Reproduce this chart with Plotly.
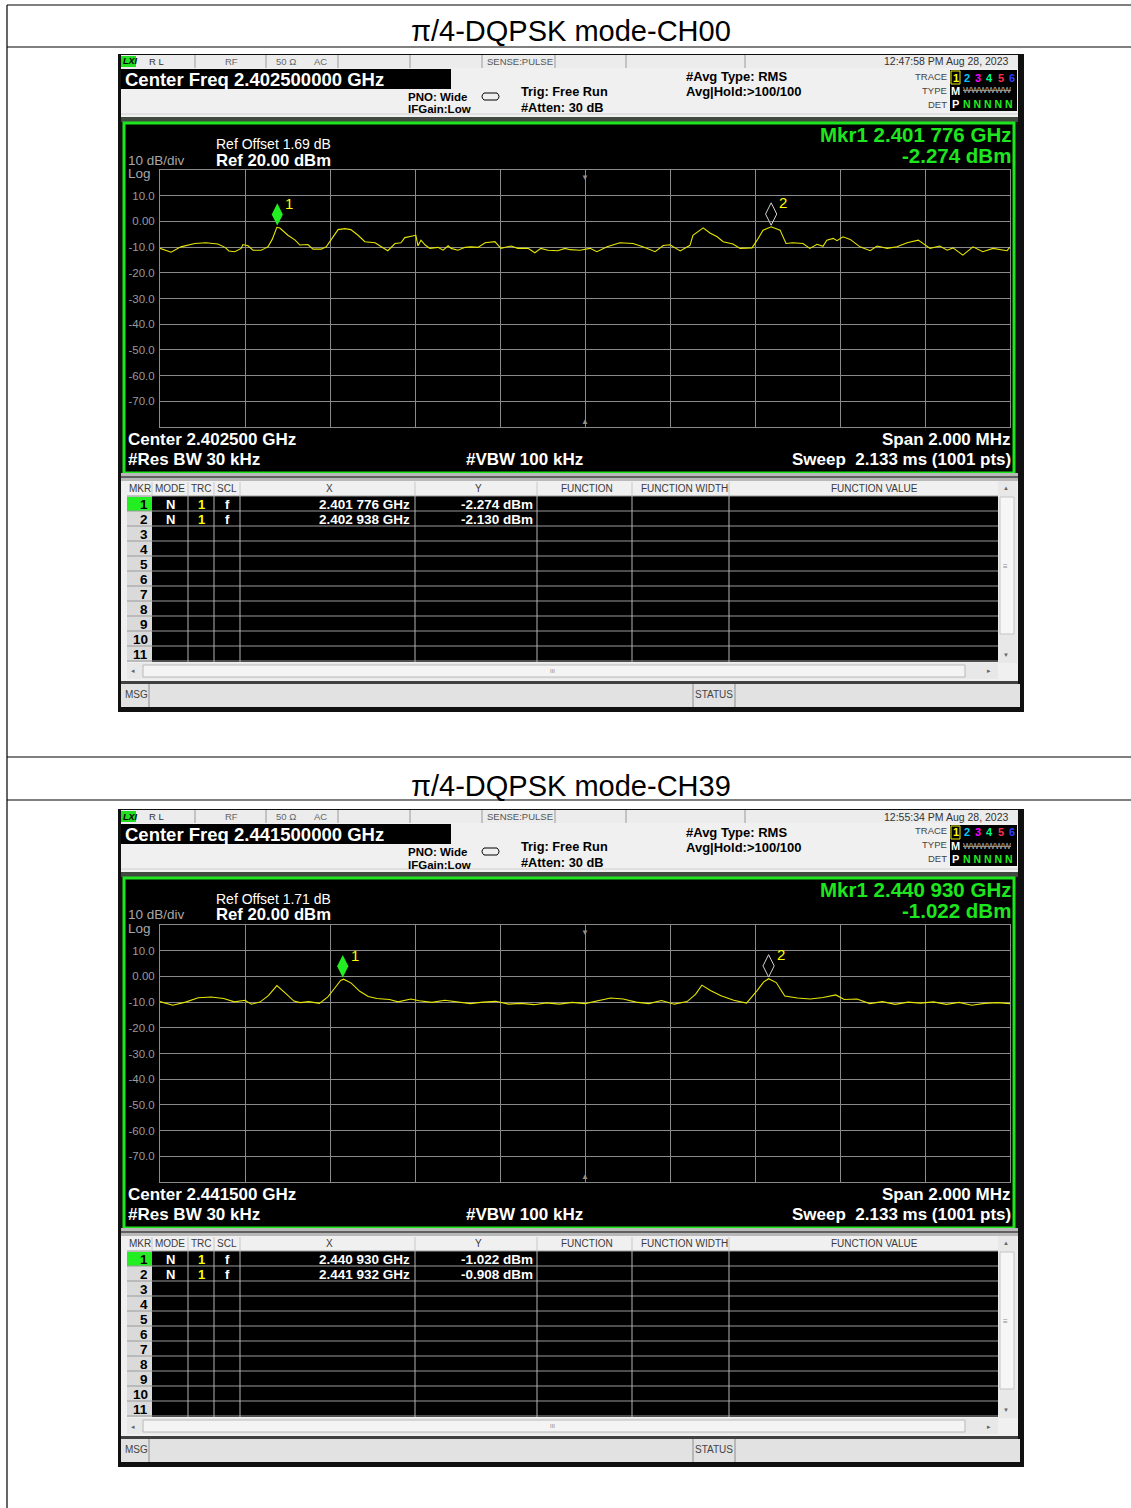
import plotly.graph_objects as go

W, H = 1131, 1508
OFF = 0

# ---------------- data ----------------
titles = ["π/4-DQPSK mode-CH00", "π/4-DQPSK mode-CH39"]
center_ghz = [2.4025, 2.4415]
span_mhz = 2.0
ref_level_dbm = 20.0
ref_offsets_db = [1.69, 1.71]
timestamps = ["12:47:58 PM Aug 28, 2023", "12:55:34 PM Aug 28, 2023"]

# trace samples: offset from start frequency (MHz) and level (dBm)
ch00_offset_mhz = [0.000, 0.026, 0.049, 0.082, 0.108, 0.136, 0.153, 0.162, 0.176, 0.191,
                   0.195, 0.207, 0.219, 0.238, 0.247, 0.254, 0.264, 0.275, 0.282, 0.301,
                   0.318, 0.329, 0.348, 0.360, 0.379, 0.391, 0.402, 0.419, 0.435, 0.449,
                   0.466, 0.482, 0.506, 0.520, 0.536, 0.553, 0.567, 0.576, 0.591, 0.602,
                   0.607, 0.614, 0.624, 0.635, 0.654, 0.666, 0.678, 0.685, 0.701, 0.718,
                   0.732, 0.748, 0.765, 0.788, 0.802, 0.826, 0.842, 0.866, 0.882, 0.896,
                   0.913, 0.936, 0.953, 0.965, 0.988, 1.012, 1.028, 1.052, 1.082, 1.113,
                   1.136, 1.165, 1.184, 1.200, 1.224, 1.247, 1.254, 1.278, 1.294, 1.311,
                   1.325, 1.348, 1.365, 1.393, 1.405, 1.419, 1.438, 1.459, 1.473, 1.489,
                   1.513, 1.529, 1.546, 1.560, 1.569, 1.584, 1.593, 1.607, 1.624, 1.647,
                   1.671, 1.687, 1.711, 1.734, 1.758, 1.784, 1.812, 1.835, 1.852, 1.866,
                   1.889, 1.913, 1.936, 1.960, 1.993, 2.000]
ch00_dbm = [-10.5, -12.0, -9.9, -8.6, -8.3, -8.8, -10.1, -11.5, -11.8, -10.5,
            -9.0, -9.5, -11.2, -11.2, -10.5, -9.9, -7.0, -2.3, -2.6, -5.4,
            -7.3, -9.2, -9.0, -10.8, -10.8, -9.9, -7.3, -3.2, -2.8, -3.2,
            -5.4, -7.9, -8.3, -9.9, -11.4, -8.6, -8.3, -6.3, -5.7, -5.4,
            -9.5, -7.3, -9.2, -10.5, -10.1, -11.2, -9.5, -10.5, -11.2, -10.1,
            -9.9, -10.1, -8.3, -7.9, -10.5, -9.6, -10.5, -10.5, -12.2, -10.5,
            -11.2, -11.4, -10.5, -11.0, -11.2, -10.5, -11.8, -9.9, -8.3, -8.6,
            -9.9, -11.8, -9.4, -9.1, -11.5, -9.3, -5.4, -2.5, -4.5, -6.0,
            -7.9, -8.8, -10.5, -10.3, -7.3, -3.4, -2.1, -3.4, -8.6, -8.3,
            -8.6, -10.5, -8.9, -9.7, -7.3, -6.6, -7.5, -6.0, -7.0, -9.9,
            -11.4, -9.6, -10.5, -9.9, -8.3, -7.3, -10.5, -9.6, -11.2, -10.3,
            -13.1, -9.9, -11.8, -10.5, -11.4, -10.0]

ch39_offset_mhz = [0.000, 0.030, 0.060, 0.090, 0.120, 0.150, 0.175, 0.200, 0.215, 0.235,
                   0.255, 0.275, 0.295, 0.315, 0.330, 0.350, 0.375, 0.395, 0.410, 0.425,
                   0.432, 0.450, 0.470, 0.490, 0.510, 0.540, 0.560, 0.590, 0.610, 0.640,
                   0.670, 0.700, 0.730, 0.760, 0.790, 0.820, 0.850, 0.880, 0.910, 0.940,
                   0.970, 1.000, 1.030, 1.060, 1.090, 1.120, 1.150, 1.180, 1.210, 1.240,
                   1.260, 1.275, 1.295, 1.320, 1.350, 1.380, 1.405, 1.420, 1.432, 1.450,
                   1.470, 1.500, 1.530, 1.560, 1.590, 1.610, 1.640, 1.670, 1.700, 1.730,
                   1.760, 1.790, 1.820, 1.850, 1.880, 1.910, 1.940, 1.970, 2.000]
ch39_dbm = [-9.8, -11.2, -10.0, -8.3, -8.0, -8.6, -9.9, -9.3, -10.8, -10.0,
            -7.5, -3.6, -6.5, -9.6, -10.2, -9.8, -10.5, -8.0, -4.8, -1.6,
            -1.1, -2.6, -5.8, -7.8, -8.6, -9.0, -9.9, -8.8, -9.5, -10.1,
            -9.3, -10.0, -10.6, -10.0, -9.7, -10.8, -10.5, -11.0, -10.3, -10.8,
            -10.1, -10.6, -9.6, -8.4, -8.8, -10.0, -10.6, -9.4, -10.8, -9.8,
            -7.0, -3.4, -5.5, -7.5, -9.3, -10.4, -5.5, -2.2, -0.9, -2.4,
            -7.6, -8.4, -8.8, -8.2, -7.2, -9.0, -8.8, -10.6, -9.8, -10.9,
            -10.0, -10.4, -9.9, -10.9, -10.1, -11.2, -10.5, -10.2, -10.6]

ch00_mkr_ghz = [2.401776, 2.402938]
ch00_mkr_dbm = [-2.274, -2.130]
ch39_mkr_ghz = [2.440930, 2.441932]
ch39_mkr_dbm = [-1.022, -0.908]

y_tick_vals = [10, 0, -10, -20, -30, -40, -50, -60, -70]
y_tick_text = ["10.0", "0.00", "-10.0", "-20.0", "-30.0", "-40.0", "-50.0", "-60.0", "-70.0"]
table_headers = ["MKR", "MODE", "TRC", "SCL", "X", "Y", "FUNCTION", "FUNCTION WIDTH", "FUNCTION VALUE"]

panels = [
    dict(offs=ch00_offset_mhz, dbm=ch00_dbm, mf=ch00_mkr_ghz, md=ch00_mkr_dbm),
    dict(offs=ch39_offset_mhz, dbm=ch39_dbm, mf=ch39_mkr_ghz, md=ch39_mkr_dbm),
]

# ---------------- helpers ----------------
FONT = "Liberation Sans, Arial, sans-serif"
GREEN = "#1ee61e"
shapes, annos = [], []


def X(px):
    return (px - OFF) / W


def Y(py):
    return 1 - (py - OFF) / H


def rect(x0, y0, x1, y1, fill=None, line=None, lw=1):
    shapes.append(dict(type="rect", xref="paper", yref="paper",
                       x0=X(x0), x1=X(x1), y0=Y(y1), y1=Y(y0),
                       fillcolor=fill if fill else "rgba(0,0,0,0)",
                       line=dict(color=line if line else "rgba(0,0,0,0)", width=lw if line else 0),
                       layer="below"))


def hline(x0, x1, y, color, lw=1):
    shapes.append(dict(type="line", xref="paper", yref="paper", x0=X(x0), x1=X(x1),
                       y0=Y(y), y1=Y(y), line=dict(color=color, width=lw), layer="below"))


def vline(x, y0, y1, color, lw=1):
    shapes.append(dict(type="line", xref="paper", yref="paper", x0=X(x), x1=X(x),
                       y0=Y(y0), y1=Y(y1), line=dict(color=color, width=lw), layer="below"))


def txt(x, y, s, size, color="black", anchor="left", bold=False, family=FONT, italic=False):
    if bold:
        s = "<b>" + s + "</b>"
    if italic:
        s = "<i>" + s + "</i>"
    annos.append(dict(x=X(x), y=Y(y), xref="paper", yref="paper", text=s, showarrow=False,
                      xanchor=anchor, yanchor="middle", borderpad=0,
                      font=dict(family=family, size=size, color=color)))


def fmt_ghz(f):
    s = f"{f:.6f}"
    return s[:5] + " " + s[5:] + " GHz"


fig = go.Figure()

# outer document table lines
vline(7, 5, 1520, "black", 1.2)
for yy in [5, 47, 757, 800]:
    hline(7, 1145, yy, "black", 1.2)

header_centers = [140, 170, 201, 227, 329, 478, 587, 684, 874]

for i, p in enumerate(panels):
    oy = 755 * i
    c = center_ghz[i]
    f0 = c - span_mhz / 2000
    f1 = c + span_mhz / 2000

    txt(571, 31 + oy, titles[i], 29, "black", "center")

    # screen frame
    rect(118, 54 + oy, 1024, 712 + oy, "#101010")
    # status strip
    rect(121, 55 + oy, 1018, 68 + oy, "#ececec")
    for xx in [195, 266, 338, 410, 482, 555, 626, 745]:
        vline(xx, 55 + oy, 68 + oy, "#9a9a9a")
    rect(121, 56 + oy, 136, 67 + oy, "#22dd22")
    txt(122, 61.5 + oy, "LXI", 9, "black", "left", bold=True, italic=True)
    txt(156, 61.5 + oy, "R L", 9.5, "#333", "center")
    txt(231, 61.5 + oy, "RF", 9.5, "#666", "center")
    txt(286, 61.5 + oy, "50 Ω", 9.5, "#666", "center")
    txt(321, 61.5 + oy, "AC", 9.5, "#666", "center")
    txt(520, 61.5 + oy, "SENSE:PULSE", 9.5, "#555", "center")
    txt(1010, 61.5 + oy, timestamps[i], 10.5, "#333", "right")

    # info area
    rect(121, 68 + oy, 1018, 117 + oy, "#f0f0f0")
    hline(121, 1018, 114 + oy, "#d0d0d0")
    rect(121, 69 + oy, 451, 89 + oy, "black")
    txt(124, 79.5 + oy, f"Center Freq {c:.9f} GHz", 18.5, "white", "left", bold=True)
    txt(407, 96.5 + oy, "PNO: Wide", 11.5, "black", "left", bold=True)
    txt(407, 109.5 + oy, "IFGain:Low", 11.5, "black", "left", bold=True)
    shapes.append(dict(type="path", xref="paper", yref="paper",
                       path=(f"M {X(484)},{Y(93 + oy)} L {X(497)},{Y(93 + oy)} "
                             f"Q {X(501)},{Y(96.5 + oy)} {X(497)},{Y(100 + oy)} L {X(484)},{Y(100 + oy)} "
                             f"Q {X(480)},{Y(96.5 + oy)} {X(484)},{Y(93 + oy)} Z"),
                       line=dict(color="black", width=1), layer="below"))
    txt(520, 91.5 + oy, "Trig: Free Run", 12.8, "black", "left", bold=True)
    txt(520, 107.5 + oy, "#Atten: 30 dB", 12.8, "black", "left", bold=True)
    txt(685, 77 + oy, "#Avg Type: RMS", 13, "black", "left", bold=True)
    txt(685, 92 + oy, "Avg|Hold:>100/100", 13, "black", "left", bold=True)
    txt(948, 76 + oy, "TRACE", 9.5, "#444", "right")
    txt(948, 90 + oy, "TYPE", 9.5, "#444", "right")
    txt(948, 104 + oy, "DET", 9.5, "#444", "right")
    rect(950, 70 + oy, 1017, 111 + oy, "black")
    rect(951, 71 + oy, 960, 84 + oy, None, "#e8e800", 1)
    tr_cols = ["#ffff00", "#00c8ff", "#ff00ff", "#00ff90", "#ff3050", "#3040ff"]
    for k, col in enumerate(tr_cols):
        txt(955.5 + k * 11.3, 77.5 + oy, str(k + 1), 11, col, "center", bold=True)
    txt(955.5, 91 + oy, "M", 11, "white", "center", bold=True)
    txt(987, 90.5 + oy, "<s>WWWWWW</s>", 8.5, "#aaaaaa", "center")
    txt(955.5, 104 + oy, "P", 11, "white", "center", bold=True)
    txt(988, 104 + oy, "N N N N N", 10.5, "#22ee22", "center", bold=True)

    # separator + green framed display
    rect(121, 117 + oy, 1018, 122 + oy, "#404840")
    rect(124, 123 + oy, 1014, 473 + oy, "black", GREEN, 3)

    txt(215, 144 + oy, f"Ref Offset {ref_offsets_db[i]:.2f} dB", 14, "white", "left")
    txt(215, 160 + oy, f"Ref {ref_level_dbm:.2f} dBm", 16.7, "white", "left", bold=True)
    txt(127, 160 + oy, "10 dB/div", 13.5, "#a8a8a8", "left")
    txt(127, 173 + oy, "Log", 13.5, "#a8a8a8", "left")
    txt(1012, 134.5 + oy, "Mkr1 " + fmt_ghz(p["mf"][0]), 20.5, GREEN, "right", bold=True)
    txt(1012, 155.5 + oy, f"{p['md'][0]:.3f} dBm", 20.5, GREEN, "right", bold=True)
    txt(127, 439.5 + oy, f"Center {c:.6f} GHz", 17, "white", "left", bold=True)
    txt(127, 459.5 + oy, "#Res BW 30 kHz", 17, "white", "left", bold=True)
    txt(524, 459.5 + oy, "#VBW 100 kHz", 17, "white", "center", bold=True)
    txt(1012, 439.5 + oy, f"Span {span_mhz:.3f} MHz", 17, "white", "right", bold=True)
    txt(1012, 459.5 + oy, "Sweep  2.133 ms (1001 pts)", 17, "white", "right", bold=True)

    # table area
    rect(121, 473 + oy, 1018, 481 + oy, "#b8b8b8")
    hline(121, 1018, 477 + oy, "#606060", 2)
    rect(121, 481 + oy, 1018, 681 + oy, "#f0f0f0")
    col_edges = [127, 152, 188, 214, 240, 415, 537, 632, 729, 998]
    for k, h in enumerate(table_headers):
        txt(header_centers[k], 488.5 + oy, h, 10, "#3a3a3a", "center")
    for xx in col_edges[1:-1]:
        vline(xx, 482 + oy, 495 + oy, "#c8c8c8")
    rect(152, 496 + oy, 998, 662 + oy, "black")
    rect(127, 496 + oy, 152, 662 + oy, "#dadada")
    rect(127, 497 + oy, 152, 511 + oy, "#22ee22")
    for k in range(1, 12):
        hline(127, 998, 496 + 15 * k + oy, "#9a9a9a")
    hline(127, 998, 496 + oy, "#9a9a9a")
    for xx in col_edges[2:-1]:
        vline(xx, 496 + oy, 662 + oy, "#b4b4b4")
    for k in range(11):
        txt(149, 504.5 + 15 * k + oy, str(k + 1), 13.5, "black", "right", bold=True)
    for k in range(2):
        yy = 504.5 + 15 * k + oy
        txt(170, yy, "N", 13, "white", "center", bold=True)
        txt(201, yy, "1", 13, "#ffff00", "center", bold=True)
        txt(227, yy, "f", 13, "white", "center", bold=True)
        txt(411, yy, fmt_ghz(p["mf"][k]), 13.5, "white", "right", bold=True)
        txt(534, yy, f"{p['md'][k]:.3f} dBm", 13.5, "white", "right", bold=True)
    # scrollbars
    rect(998, 481 + oy, 1017, 663 + oy, "#e8e8e8")
    rect(1000, 497 + oy, 1014, 634 + oy, "#f6f6f6", "#c4c4c4")
    txt(1006, 488 + oy, "▲", 6, "#666", "center")
    txt(1006, 655 + oy, "▼", 6, "#666", "center")
    txt(1005, 566 + oy, "≡", 8, "#888", "center")
    rect(127, 663 + oy, 998, 679 + oy, "#e8e8e8")
    rect(143, 665 + oy, 965, 677 + oy, "#f4f4f4", "#b8b8b8")
    txt(133, 671 + oy, "◂", 7, "#666", "center")
    txt(989, 671 + oy, "▸", 7, "#666", "center")
    txt(552, 671 + oy, "III", 6, "#888", "center")
    # MSG bar
    rect(121, 681 + oy, 1018, 684 + oy, "#404040")
    rect(121, 684 + oy, 1020, 707 + oy, "#e2e2e2")
    for xx in [149, 693, 735]:
        vline(xx, 684 + oy, 707 + oy, "#a8a8a8", 1.5)
    txt(124, 694.5 + oy, "MSG", 10, "#444", "left")
    txt(714, 694.5 + oy, "STATUS", 10, "#444", "center")

    # ---------- spectrum plot ----------
    xa = "xaxis" if i == 0 else "xaxis2"
    ya = "yaxis" if i == 0 else "yaxis2"
    xr = "x" if i == 0 else "x2"
    yr = "y" if i == 0 else "y2"
    freqs = [f0 + o / 1000 for o in p["offs"]]
    fig.add_trace(go.Scatter(x=freqs, y=p["dbm"], mode="lines", xaxis=xr, yaxis=yr,
                             line=dict(color="#e6e600", width=1.1), hoverinfo="skip"))
    # marker diamonds (tip sits just above the trace point)
    fig.add_trace(go.Scatter(x=[p["mf"][0]], y=[p["md"][0] + 5.0], mode="markers", xaxis=xr, yaxis=yr,
                             marker=dict(symbol="diamond-tall", size=16, color="#22ee22",
                                         line=dict(width=0)), hoverinfo="skip"))
    fig.add_trace(go.Scatter(x=[p["mf"][1]], y=[p["md"][1] + 5.0], mode="markers", xaxis=xr, yaxis=yr,
                             marker=dict(symbol="diamond-tall-open", size=16, color="#d0d0d0",
                                         line=dict(width=1)), hoverinfo="skip"))
    for k in range(2):
        annos.append(dict(x=p["mf"][k], y=p["md"][k], xref=xr, yref=yr, text=str(k + 1),
                          showarrow=False, xanchor="left", yanchor="middle", xshift=6, yshift=24,
                          font=dict(family=FONT, size=15, color="#ffff00")))
    # center frequency indicators
    annos.append(dict(x=c, y=1, xref=xr, yref=f"{yr} domain", text="▼", showarrow=False,
                      xanchor="center", yanchor="top", yshift=1,
                      font=dict(size=8, color="#909090")))
    annos.append(dict(x=c, y=0, xref=xr, yref=f"{yr} domain", text="▲", showarrow=False,
                      xanchor="center", yanchor="bottom", yshift=-1,
                      font=dict(size=8, color="#909090")))

    fig.update_layout(**{
        xa: dict(domain=[X(160), X(1010)], range=[f0, f1], tick0=f0, dtick=0.0002,
                 showticklabels=False, showgrid=True, gridcolor="#8a8a8a", gridwidth=1,
                 zeroline=False, showline=True, linecolor="#8a8a8a", linewidth=1, mirror=True,
                 anchor=yr, ticks=""),
        ya: dict(domain=[Y(427 + oy), Y(170 + oy)], range=[ref_level_dbm - 100, ref_level_dbm],
                 tickvals=y_tick_vals, ticktext=y_tick_text, showgrid=True, gridcolor="#8a8a8a",
                 gridwidth=1, zeroline=False, showline=True, linecolor="#8a8a8a", linewidth=1,
                 mirror=True, anchor=xr, ticks="", ticklabelstandoff=2,
                 tickfont=dict(family=FONT, size=11.5, color="#9a9a9a")),
    })

fig.update_layout(width=W, height=H, margin=dict(l=0, r=0, t=0, b=0),
                  paper_bgcolor="white", plot_bgcolor="black", showlegend=False,
                  shapes=shapes, annotations=annos)
fig.write_html("out.html", config={"displayModeBar": False},
               post_script="document.body.style.margin='0';")
